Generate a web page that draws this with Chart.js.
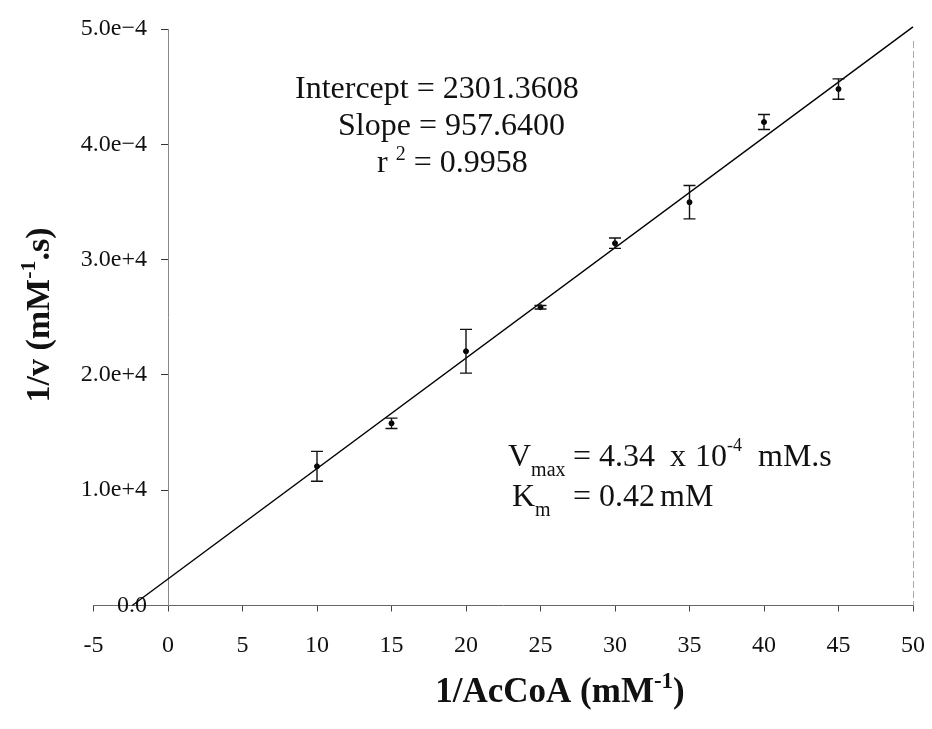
<!DOCTYPE html>
<html><head><meta charset="utf-8">
<script src="https://cdn.jsdelivr.net/npm/chart.js@4/dist/chart.umd.min.js"></script>
<style>html,body{margin:0;padding:0;background:#fff}#wrap{width:932px;height:729px}</style>
</head><body><div id="wrap"><canvas id="c" width="932" height="729"></canvas></div>
<script>
// ---- data ----
const xValues = [10, 15, 20, 25, 30, 35, 40, 45];
const yValues = [12070, 15800, 22050, 25870, 31420, 34980, 41930, 44790];
const yErrors = [1300, 450, 1900, 150, 450, 1450, 650, 880];
const fitLineX = [-2.403, 50];
const fitLineY = [0, 50183];
const xTickValues = [-5, 0, 5, 10, 15, 20, 25, 30, 35, 40, 45, 50];
const xTickLabels = ['-5', '0', '5', '10', '15', '20', '25', '30', '35', '40', '45', '50'];
const yTickValues = [0, 10000, 20000, 30000, 40000, 50000];
const yTickLabels = ['0.0', '1.0e+4', '2.0e+4', '3.0e+4', '4.0e\u22124', '5.0e\u22124'];

const SERIF = '"Liberation Serif", "Times New Roman", serif';

function drawSegs(ctx, segs, x0, base) {
  let x = x0;
  segs.forEach(s => {
    ctx.font = (s.bold ? 'bold ' : '') + s.size + 'px ' + SERIF;
    if (s.x !== undefined) x = s.x;
    ctx.fillText(s.t, x, base + (s.dy || 0));
    x += ctx.measureText(s.t).width;
  });
}
function segsWidth(ctx, segs) {
  let w = 0;
  segs.forEach(s => { ctx.font = (s.bold ? 'bold ' : '') + s.size + 'px ' + SERIF; w += ctx.measureText(s.t).width; });
  return w;
}

const errorBars = {
  id: 'errorBars',
  afterDatasetsDraw(chart) {
    const {ctx, scales: {x, y}} = chart;
    ctx.save();
    ctx.strokeStyle = '#111';
    ctx.lineWidth = 1.4;
    xValues.forEach((xv, i) => {
      const px = x.getPixelForValue(xv);
      const top = y.getPixelForValue(yValues[i] + yErrors[i]);
      const bot = y.getPixelForValue(yValues[i] - yErrors[i]);
      ctx.beginPath();
      ctx.moveTo(px, top); ctx.lineTo(px, bot);
      ctx.moveTo(px - 6, top); ctx.lineTo(px + 6, top);
      ctx.moveTo(px - 6, bot); ctx.lineTo(px + 6, bot);
      ctx.stroke();
    });
    ctx.restore();
  }
};

const decor = {
  id: 'decor',
  afterDraw(chart) {
    const {ctx, scales: {x, y}, chartArea} = chart;
    ctx.save();
    // right frame line
    const rx = Math.round(x.getPixelForValue(50)) + 0.5;
    ctx.strokeStyle = '#aaa'; ctx.lineWidth = 1; ctx.setLineDash([7, 3]);
    ctx.beginPath(); ctx.moveTo(rx, chartArea.top + 12); ctx.lineTo(rx, chartArea.bottom); ctx.stroke();
    ctx.setLineDash([]);
    ctx.fillStyle = '#111';
    ctx.textBaseline = 'alphabetic';
    ctx.textAlign = 'left';
    // regression statistics
    drawSegs(ctx, [{t: 'Intercept = 2301.3608', size: 32}], 295, 98);
    drawSegs(ctx, [{t: 'Slope = 957.6400', size: 32}], 338, 135);
    drawSegs(ctx, [{t: 'r ', size: 32}, {t: '2', size: 20, dy: -12}, {t: ' = 0.9958', size: 32}], 377, 172);
    // kinetic constants
    drawSegs(ctx, [{t: 'V', size: 32}, {t: 'max', size: 20, dy: 10}], 508, 466);
    drawSegs(ctx, [{t: '=', size: 32, x: 573}, {t: '4.34', size: 32, x: 599}, {t: 'x', size: 32, x: 670}, {t: '10', size: 32, x: 695}, {t: '-4', size: 18, dy: -15}, {t: 'mM.s', size: 32, x: 758}], 0, 466);
    drawSegs(ctx, [{t: 'K', size: 32}, {t: 'm', size: 20, dy: 10}], 512, 506);
    drawSegs(ctx, [{t: '=', size: 32, x: 573}, {t: '0.42', size: 32, x: 599}, {t: 'mM', size: 32, x: 660}], 0, 506);
    // x axis title
    const xt = [{t: '1/AcCoA (mM', size: 35, bold: true}, {t: '-1', size: 23, bold: true, dy: -14}, {t: ')', size: 35, bold: true}];
    const xw = segsWidth(ctx, xt);
    drawSegs(ctx, xt, 560 - xw / 2, 702);
    // y axis title
    const yt = [{t: '1/v (mM', size: 34, bold: true}, {t: '-1', size: 22, bold: true, dy: -14}, {t: '.s)', size: 34, bold: true}];
    const yw = segsWidth(ctx, yt);
    ctx.translate(49, 315);
    ctx.rotate(-Math.PI / 2);
    drawSegs(ctx, yt, -yw / 2, 0);
    ctx.restore();
  }
};

new Chart(document.getElementById('c'), {
  type: 'scatter',
  data: {
    datasets: [
      {
        label: 'data',
        data: xValues.map((v, i) => ({x: v, y: yValues[i]})),
        pointRadius: 2.5,
        pointBackgroundColor: '#000',
        pointBorderColor: '#000',
        showLine: false
      },
      {
        label: 'fit',
        type: 'line',
        data: fitLineX.map((v, i) => ({x: v, y: fitLineY[i]})),
        borderColor: '#000',
        borderWidth: 1.4,
        pointRadius: 0,
        fill: false,
        clip: 6
      }
    ]
  },
  options: {
    responsive: false,
    animation: false,
    events: [],
    layout: {padding: {left: 93.5, right: 19, top: 29, bottom: 0}},
    plugins: {legend: {display: false}, tooltip: {enabled: false}},
    scales: {
      x: {
        type: 'linear', min: -5, max: 50, position: 'bottom',
        afterFit(s) { s.height = 123.5; s.paddingLeft = 0; s.paddingRight = 0; },
        afterBuildTicks(s) { s.ticks = xTickValues.map(v => ({value: v})); },
        grid: {display: true, drawOnChartArea: false, drawTicks: true, tickLength: 6, color: '#444'},
        border: {display: true, color: '#666', width: 1},
        ticks: {
          color: '#111', padding: 20, maxRotation: 0, autoSkip: false,
          font: {family: SERIF, size: 24},
          callback: (v) => { const i = xTickValues.indexOf(v); return i >= 0 ? xTickLabels[i] : ''; }
        }
      },
      y: {
        type: 'linear', min: 0, max: 50000, position: {x: 0},
        afterFit(s) { s.width = 0; s.paddingTop = 0; s.paddingBottom = 0; },
        afterBuildTicks(s) { s.ticks = yTickValues.map(v => ({value: v})); },
        afterUpdate(s) {
          if (s.__patched) return;
          s.__patched = true;
          const orig = s._computeLabelItems;
          if (typeof orig !== 'function') return;
          s._computeLabelItems = function (ca) {
            const items = orig.call(this, ca);
            const shift = this.options.grid.tickLength + this.options.ticks.padding;
            items.forEach(it => {
              if (it.options && it.options.translation) it.options.translation[0] -= shift;
            });
            return items;
          };
        },
        grid: {display: true, drawOnChartArea: false, drawTicks: true, tickLength: 7, color: '#333'},
        border: {display: true, color: '#888', width: 1},
        ticks: {
          color: '#111', padding: 14, autoSkip: false,
          font: {family: SERIF, size: 24},
          callback: (v) => { const i = yTickValues.indexOf(v); return i >= 0 ? yTickLabels[i] : ''; }
        }
      }
    }
  },
  plugins: [errorBars, decor]
});
</script>
</body></html>
